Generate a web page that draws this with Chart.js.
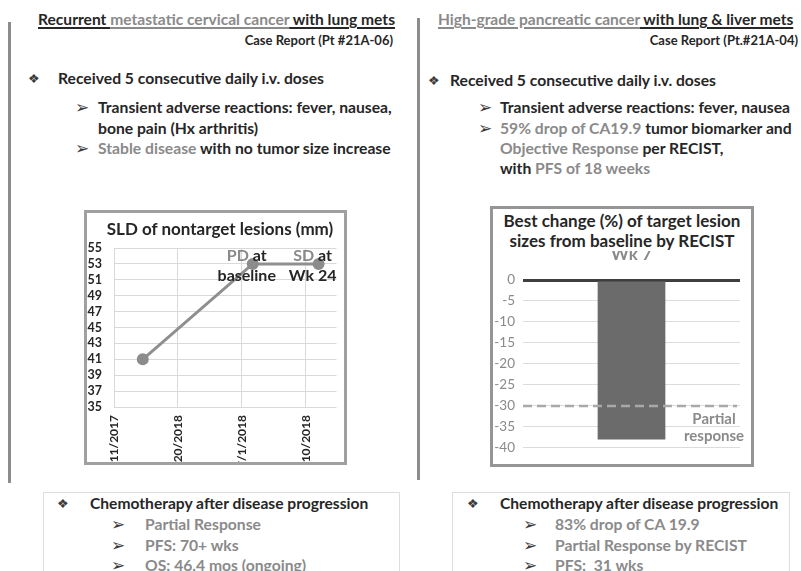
<!DOCTYPE html>
<html>
<head>
<meta charset="utf-8">
<script src="https://cdn.jsdelivr.net/npm/chart.js@4.4.1/dist/chart.umd.min.js"></script>
<style>
  html, body { margin: 0; padding: 0; background: #fff; }
  #page { position: relative; width: 801px; height: 571px; overflow: hidden; background: #fff;
          font-family: Lato, "Open Sans", sans-serif; color: #262626; }
  .t { position: absolute; white-space: nowrap; font-weight: bold; line-height: 20px; font-size: 15.7px; }
  .h { font-size: 15.6px; }
  .g { color: #8a8a8a; }
  .u { text-decoration: underline; text-underline-offset: 2px; text-decoration-thickness: 1.5px; }
  .sym { position: absolute; line-height: 20px; color: #3a3a3a; }
  .arr { font-size: 17px; font-family: "DejaVu Sans", sans-serif; line-height: 20px; }
  .dia { font-size: 13px; }
  .vrule { position: absolute; width: 3px; background: #8c8c8c; }
  .frame { position: absolute; box-sizing: border-box; border: 3px solid #a0a0a0; background: #fff; overflow: hidden; }
  .frame canvas { position: absolute; left: 0; top: 0; }
  .ctitle { position: absolute; text-align: center; font-weight: bold; font-size: 17px; color: #262626; white-space: nowrap; }
  .panel { position: absolute; box-sizing: border-box; border: 1px solid #dedede; background: #fff; }
</style>
</head>
<body>
<div id="page">
  <!-- column rules -->
  <div class="vrule" style="left:8px; top:22px; height:461px;"></div>
  <div class="vrule" style="left:417px; top:18px; height:462px;"></div>

  <!-- left case -->
  <div class="t h" style="left:38px; top:9px;"><span class="u">Recurrent </span><span class="u g">metastatic cervical cancer</span><span class="u"> with lung mets</span></div>
  <div class="t" style="right:408px; top:30px; font-size:13px;">Case Report (Pt #21A-06)</div>
  <div class="sym dia" style="left:28px; top:68px;">❖</div>
  <div class="t" style="left:58px; top:68px;">Received 5 consecutive daily i.v. doses</div>
  <div class="sym arr" style="left:75px; top:97px;">➢</div>
  <div class="t" style="left:98px; top:97px;">Transient adverse reactions: fever, nausea,</div>
  <div class="t" style="left:98px; top:118px;">bone pain (Hx arthritis)</div>
  <div class="sym arr g" style="left:75px; top:138px;">➢</div>
  <div class="t" style="left:98px; top:138px;"><span class="g">Stable disease</span> with no tumor size increase</div>

  <!-- right case -->
  <div class="t h" style="left:438px; top:9px; font-size:15.5px;"><span class="u g">High-grade pancreatic cancer</span><span class="u"> with lung &amp; liver mets</span></div>
  <div class="t" style="right:3px; top:30px; font-size:13px;">Case Report (Pt.#21A-04)</div>
  <div class="sym dia" style="left:428px; top:70px;">❖</div>
  <div class="t" style="left:450px; top:70px;">Received 5 consecutive daily i.v. doses</div>
  <div class="sym arr" style="left:478px; top:97px;">➢</div>
  <div class="t" style="left:500px; top:97px;">Transient adverse reactions: fever, nausea</div>
  <div class="sym arr g" style="left:478px; top:118px;">➢</div>
  <div class="t" style="left:500px; top:118px;"><span class="g">59% drop of CA19.9</span> tumor biomarker and</div>
  <div class="t" style="left:500px; top:138px;"><span class="g">Objective Response</span> per RECIST,</div>
  <div class="t" style="left:500px; top:158px;">with <span class="g">PFS of 18 weeks</span></div>

  <!-- SLD line chart -->
  <div class="frame" style="left:84px; top:210px; width:263px; height:255px;">
    <canvas id="sldChart" width="257" height="249"></canvas>
    <div class="ctitle" style="left:0; top:6px; width:266px; line-height:20px;">SLD of nontarget lesions (mm)</div>
  </div>

  <!-- best change bar chart -->
  <div class="frame" style="left:490px; top:206px; width:264px; height:261px; border-color:#959595;">
    <canvas id="bestChart" width="258" height="255"></canvas>
    <div class="ctitle" style="left:0; top:0; width:258px; height:42px; background:#fff; padding-top:2px; box-sizing:border-box; line-height:19.5px;">Best change (%) of target lesion<br>sizes from baseline by RECIST</div>
  </div>

  <!-- later-line panels -->
  <div class="panel" style="left:43px; top:492px; width:357px; height:90px;"></div>
  <div class="sym dia" style="left:57px; top:493px;">❖</div>
  <div class="t h" style="left:90px; top:493px;">Chemotherapy after disease progression</div>
  <div class="sym arr g" style="left:111px; top:514px;">➢</div>
  <div class="t g" style="left:145px; top:514px;">Partial Response</div>
  <div class="sym arr g" style="left:111px; top:535px;">➢</div>
  <div class="t g" style="left:145px; top:535px;">PFS: 70+ wks</div>
  <div class="sym arr g" style="left:111px; top:555px;">➢</div>
  <div class="t g" style="left:145px; top:555px;">OS: 46.4 mos (ongoing)</div>

  <div class="panel" style="left:452px; top:492px; width:338px; height:90px;"></div>
  <div class="sym dia" style="left:467px; top:493px;">❖</div>
  <div class="t h" style="left:500px; top:493px;">Chemotherapy after disease progression</div>
  <div class="sym arr g" style="left:523px; top:514px;">➢</div>
  <div class="t g" style="left:555px; top:514px;">83% drop of CA 19.9</div>
  <div class="sym arr g" style="left:523px; top:535px;">➢</div>
  <div class="t g" style="left:555px; top:535px;">Partial Response by RECIST</div>
  <div class="sym arr g" style="left:523px; top:555px;">➢</div>
  <div class="t g" style="left:555px; top:555px;">PFS:&nbsp; 31 wks</div>
</div>

<script>
// ---- SLD of nontarget lesions (days from first axis date) ----
const sldTickDays   = [0, 100, 200, 300];
const sldTickLabels = ['12/11/2017', '3/20/2018', '7/1/2018', '10/10/2018'];
const sldDays       = [45, 217, 320];
const sldValues     = [41, 53, 53];
const sldStatus     = [null, 'PD', 'SD'];
const sldNotes      = [null, ['at', 'baseline'], ['at', 'Wk 24']];

// ---- Best change of target lesion sizes ----
const bestCategories = ['Wk 7'];
const bestValues     = [-38];
const partialResponseCutoff = -30;

const DARK = '#262626';
const GREY = '#8a8a8a';

Chart.defaults.font.family = 'Lato, "Open Sans", sans-serif';
Chart.defaults.animation = false;

// status labels next to the SLD points: grey status word, dark note
const sldLabelPlugin = {
  id: 'sldLabels',
  afterDatasetsDraw(chart) {
    const ctx = chart.ctx;
    const pts = chart.getDatasetMeta(0).data;
    ctx.save();
    ctx.font = 'bold 16px Lato, sans-serif';
    ctx.textBaseline = 'middle';
    pts.forEach((pt, i) => {
      if (!sldStatus[i]) return;
      const cx = pt.x - 6;
      const head = sldStatus[i];
      const tail = ' ' + sldNotes[i][0];
      const w = ctx.measureText(head + tail).width;
      const x = cx - w / 2;
      ctx.textAlign = 'left';
      ctx.fillStyle = GREY;
      ctx.fillText(head, x, pt.y - 8);
      ctx.fillStyle = DARK;
      ctx.fillText(tail, x + ctx.measureText(head).width, pt.y - 8);
      ctx.textAlign = 'center';
      ctx.fillText(sldNotes[i][1], cx, pt.y + 12);
    });
    ctx.restore();
  }
};

new Chart(document.getElementById('sldChart'), {
  type: 'line',
  data: {
    datasets: [{
      data: sldDays.map((d, i) => ({ x: d, y: sldValues[i] })),
      borderColor: '#8f8f8f',
      borderWidth: 3,
      pointBackgroundColor: '#8c8c8c',
      pointBorderColor: '#8c8c8c',
      pointRadius: 4.5,
      tension: 0
    }]
  },
  options: {
    responsive: false,
    devicePixelRatio: 1,
    layout: { padding: { left: 0, right: 7, top: 35, bottom: 0 } },
    plugins: { legend: { display: false }, tooltip: { enabled: false }, title: { display: false } },
    scales: {
      x: {
        type: 'linear',
        min: 0,
        max: 348,
        afterBuildTicks: s => { s.ticks = sldTickDays.map(v => ({ value: v })); },
        afterFit: s => { s.height = 55; },
        ticks: {
          autoSkip: false,
          minRotation: 90,
          maxRotation: 90,
          padding: 8,
          color: DARK,
          font: { size: 12, weight: 'bold' },
          callback: (v, i) => sldTickLabels[i]
        },
        grid: { color: '#d9d9d9', drawTicks: false },
        border: { display: false }
      },
      y: {
        min: 35,
        max: 55,
        afterFit: s => { s.width = 27; },
        ticks: { stepSize: 2, autoSkip: false, padding: 12, color: DARK, font: { size: 12.5, weight: 'bold' } },
        grid: { color: '#d9d9d9', drawTicks: false },
        border: { display: false }
      }
    }
  },
  plugins: [sldLabelPlugin]
});

// dashed partial-response threshold with its caption
const cutoffPlugin = {
  id: 'cutoff',
  afterDatasetsDraw(chart) {
    const ctx = chart.ctx;
    const { left, right } = chart.chartArea;
    const y = chart.scales.y.getPixelForValue(partialResponseCutoff);
    ctx.save();
    ctx.strokeStyle = '#a9a9a9';
    ctx.lineWidth = 2.5;
    ctx.setLineDash([9, 5]);
    ctx.beginPath();
    ctx.moveTo(left, y);
    ctx.lineTo(right - 3, y);
    ctx.stroke();
    ctx.setLineDash([]);
    ctx.fillStyle = GREY;
    ctx.font = 'bold 15px Lato, sans-serif';
    ctx.textAlign = 'center';
    ctx.textBaseline = 'middle';
    ctx.fillText('Partial', right - 26, y + 13);
    ctx.fillText('response', right - 26, y + 30);
    ctx.restore();
  }
};

new Chart(document.getElementById('bestChart'), {
  type: 'bar',
  data: {
    labels: bestCategories,
    datasets: [{
      data: bestValues,
      backgroundColor: '#6b6b6b',
      borderWidth: 0,
      categoryPercentage: 0.8,
      barPercentage: 0.39
    }]
  },
  options: {
    responsive: false,
    devicePixelRatio: 1,
    layout: { padding: { left: 0, right: 11, top: 0, bottom: 7 } },
    plugins: { legend: { display: false }, tooltip: { enabled: false } },
    scales: {
      x: {
        position: 'top',
        afterFit: s => { s.height = 71; },
        ticks: { color: GREY, padding: 15, font: { size: 17, weight: 'bold' } },
        grid: { display: false, drawTicks: false },
        border: { display: false }
      },
      y: {
        min: -40,
        max: 0,
        afterFit: s => { s.width = 30; },
        ticks: { stepSize: 5, padding: 8, color: GREY, font: { size: 13.5 } },
        grid: {
          drawTicks: false,
          color: c => c.tick && c.tick.value === 0 ? '#3f3f3f' : '#dcdcdc',
          lineWidth: c => c.tick && c.tick.value === 0 ? 3 : 1
        },
        border: { display: false }
      }
    }
  },
  plugins: [cutoffPlugin]
});
</script>
</body>
</html>
